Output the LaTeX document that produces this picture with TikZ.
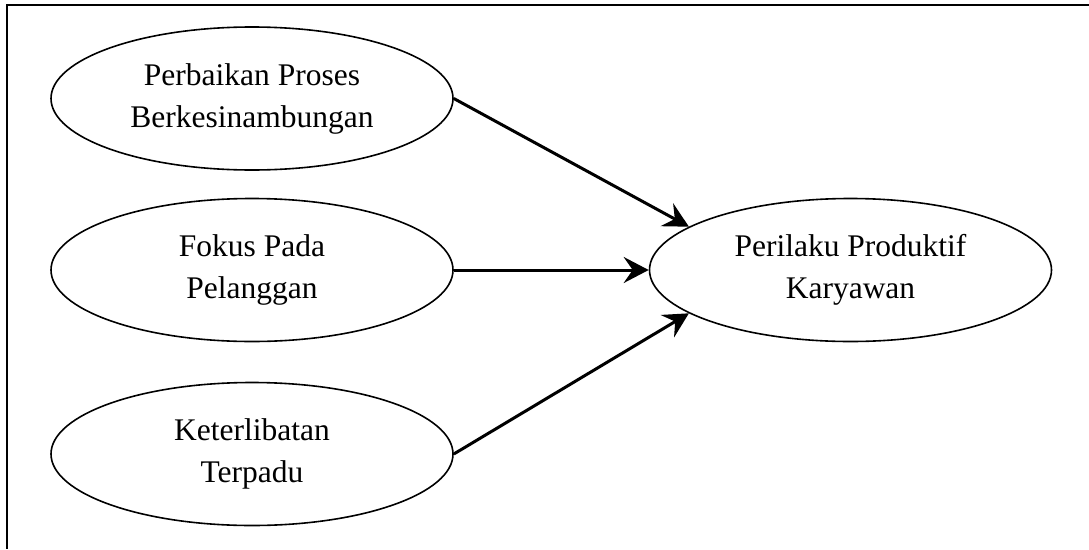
\documentclass[tikz,border=0pt]{standalone}
\usepackage{fontspec}
\setmainfont{Liberation Serif}
\usepackage{tikz}
\usetikzlibrary{shapes.geometric}
\usetikzlibrary{arrows.meta}

\tikzset{
  konstruk/.style={draw, ellipse, line width=1.6pt, inner sep=0pt,
    minimum width=402pt, minimum height=143pt, align=center,
    font=\fontsize{31.5}{42}\selectfont},
  panah/.style={line width=3pt,
    -{Stealth[length=25pt,width=26pt,inset=9pt]}}
}

\begin{document}
\begin{tikzpicture}[x=1pt,y=-1pt]
      \useasboundingbox (0,0) rectangle (1089,549);
      \draw[line width=1.8pt] (1089,5) -- (7,5) -- (7,549);
      
      \node[konstruk] (pp) at (252,98.5) {Perbaikan Proses\\Berkesinambungan};
      \node[konstruk] (fp) at (252,270) {Fokus Pada\\Pelanggan};
      \node[konstruk] (kt) at (252,454) {Keterlibatan\\Terpadu};
      
      \node[konstruk] (pk) at (850.5,270) {Perilaku Produktif\\Karyawan};
      
      \draw[panah] (pp.east) -- (pk.165);
      \draw[panah] (fp.east) -- (pk.west);
      \draw[panah] (kt.east) -- (pk.195);
  \end{tikzpicture}
\end{document}
